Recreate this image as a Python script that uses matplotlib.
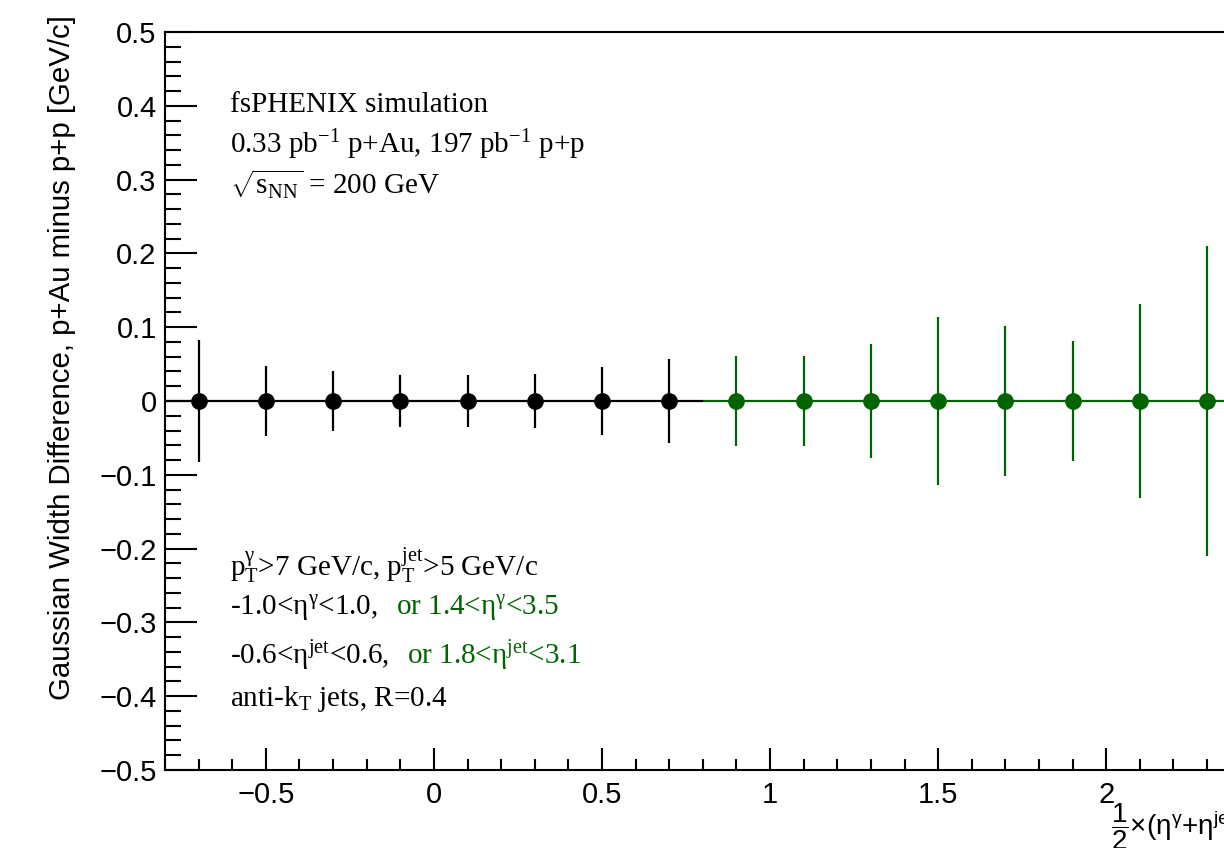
import matplotlib
matplotlib.use('Agg')
import matplotlib.pyplot as plt
from matplotlib.ticker import MultipleLocator, FuncFormatter

plt.rcParams['mathtext.fontset'] = 'custom'
plt.rcParams['mathtext.rm'] = 'Liberation Serif'
plt.rcParams['mathtext.sf'] = 'Liberation Sans'
plt.rcParams['mathtext.it'] = 'Liberation Serif:italic'

GREEN = '#006400'

# puntos centrales (black) y forward (green)
x_mid = [-0.7, -0.5, -0.3, -0.1, 0.1, 0.3, 0.5, 0.7]
y_mid = [0, 0, 0, 0, 0, 0, 0, 0]
err_mid = [0.083, 0.048, 0.041, 0.035, 0.035, 0.037, 0.046, 0.057]

x_fwd = [0.9, 1.1, 1.3, 1.5, 1.7, 1.9, 2.1, 2.3]
y_fwd = [0, 0, 0, 0, 0, 0, 0, 0]
err_fwd = [0.061, 0.061, 0.077, 0.114, 0.101, 0.081, 0.131, 0.210]

bin_half = 0.1

W, H = 1224, 848
fig = plt.figure(figsize=(W / 100, H / 100), dpi=100)

# el eje sigue mas alla del borde derecho (imagen recortada)
x_lo, x_hi = -0.8, 2.5
px_left, px_zero, px_unit = 165, 433, 336.5
px_right = px_zero + x_hi * px_unit
ax = fig.add_axes([px_left / W, 1 - 770 / H, (px_right - px_left) / W, (770 - 32) / H])

ax.errorbar(x_mid, y_mid, xerr=bin_half, yerr=err_mid, fmt='o', color='black',
            ms=11, elinewidth=1.6, capsize=0)
ax.errorbar(x_fwd, y_fwd, xerr=bin_half, yerr=err_fwd, fmt='o', color=GREEN,
            ms=11, elinewidth=1.6, capsize=0)

ax.set_xlim(x_lo, x_hi)
ax.set_ylim(-0.5, 0.5)
ax.xaxis.set_major_locator(MultipleLocator(0.5))
ax.xaxis.set_minor_locator(MultipleLocator(0.1))
ax.yaxis.set_major_locator(MultipleLocator(0.1))
ax.yaxis.set_minor_locator(MultipleLocator(0.02))

def fmt(v, pos):
    s = f"{v:g}"
    if abs(v) < 1e-9:
        s = "0"
    return s.replace('-', '\u2212')

ax.xaxis.set_major_formatter(FuncFormatter(fmt))
ax.yaxis.set_major_formatter(FuncFormatter(fmt))

for sp in ax.spines.values():
    sp.set_linewidth(1.5)
ax.tick_params(axis='both', which='both', direction='in', width=1.5, labelsize=21,
               top=False, right=False)
ax.tick_params(axis='x', which='major', length=16, pad=8)
ax.tick_params(axis='x', which='minor', length=8)
ax.tick_params(axis='y', which='major', length=23, pad=6)
ax.tick_params(axis='y', which='minor', length=11.5)
for lab in ax.get_xticklabels() + ax.get_yticklabels():
    lab.set_family('Liberation Sans')

# titulos de ejes
fig.text(62 / W, 1 - 15 / H, 'Gaussian Width Difference, p+Au minus p+p [GeV/c]',
         rotation=90, ha='center', va='top', fontsize=21.2, family='Liberation Sans')
fig.text(1111 / W, 1 - 827 / H, r'$\mathsf{\dfrac{1}{2}}$' + '\u00d7(η' + r'$\mathsf{^{γ}}$'
         + '+η' + r'$\mathsf{^{jet}})$', ha='left', va='center', fontsize=20,
         family='Liberation Sans')

# textos
serif = dict(fontsize=21, family='Liberation Serif', va='baseline', ha='left')
def tx(px, py, s, **kw):
    d = dict(serif)
    d.update(kw)
    return fig.text(px / W, 1 - py / H, s, **d)

tx(230, 112, 'fsPHENIX simulation')
tx(230, 153, r'0.33 pb$^{\mathrm{-1}}$ p+Au, 197 pb$^{\mathrm{-1}}$ p+p')
tx(230, 195, r'$\sqrt{\mathrm{s_{NN}}}$ = 200 GeV')

tx(230, 575, r'p$_{\mathrm{T}}^{\mathrm{γ}}$>7 GeV/c, p$_{\mathrm{T}}^{\mathrm{jet}}$>5 GeV/c')
tx(230, 615, r'-1.0<η$^{\mathrm{γ}}$<1.0,')
tx(396, 615, r'or 1.4<η$^{\mathrm{γ}}$<3.5', color=GREEN)
tx(230, 664, r'-0.6<η$^{\mathrm{jet}}$<0.6,')
tx(407, 664, r'or 1.8<η$^{\mathrm{jet}}$<3.1', color=GREEN)
tx(230, 706, r'anti-k$_{\mathrm{T}}$ jets, R=0.4')

fig.savefig('out.png', dpi=100)
